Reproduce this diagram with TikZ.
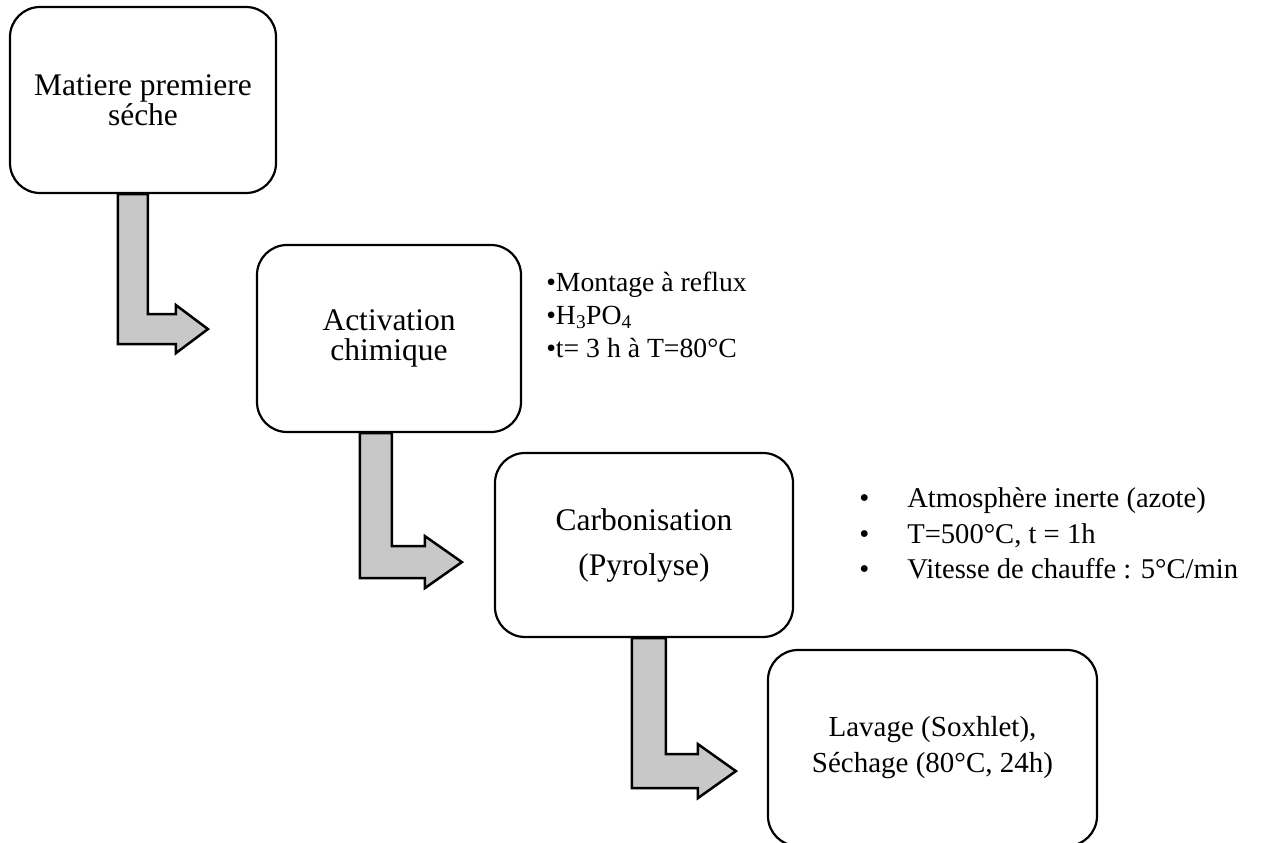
\documentclass[tikz,border=0pt]{standalone}
\usepackage{fontspec}
\setmainfont{Liberation Serif}
\usetikzlibrary{positioning, calc}
\definecolor{flechegris}{HTML}{C8C8C8}

\begin{document}
\begin{tikzpicture}[
  x=1pt, y=-1pt,
  etape/.style={rectangle, draw=black, line width=2.2pt, fill=white, rounded corners=30pt, align=center, font=\fontsize{31.5}{30}\selectfont},
  notes/.style={align=left, inner sep=0pt, anchor=west},
  fleche/.style={draw=black, line width=2.5pt, fill=flechegris, line join=miter}
]
  \useasboundingbox (0,0) rectangle (1262,843);

  \node[etape, minimum width=266pt, minimum height=186pt] (matiere) at (143,100) {Matiere premiere\\séche};
  \node[etape, minimum width=264pt, minimum height=187pt] (activ) at (389,338.5) {Activation\\chimique};
  \node[etape, minimum width=298pt, minimum height=184pt, font=\fontsize{31.5}{45}\selectfont] (carbo) at (644,545) {Carbonisation\\(Pyrolyse)};
  \node[etape, minimum width=329pt, minimum height=196pt, font=\fontsize{29}{36}\selectfont] (lavage) at (932.5,748) {Lavage (Soxhlet),\\Séchage (80°C, 24h)};

  % fleches coudees
  \draw[fleche] ($(matiere.south west)+(109,0)$) -- ++(0,150) -- ++(58,0) -- ++(0,9) -- ++(32,-24) -- ++(-32,-24) -- ++(0,9) -- ++(-28,0) -- ++(0,-120) -- cycle;
  \draw[fleche] ($(activ.south west)+(104,0)$) -- ++(0,145) -- ++(65,0) -- ++(0,10) -- ++(37,-26) -- ++(-37,-26) -- ++(0,10) -- ++(-33,0) -- ++(0,-113) -- cycle;
  \draw[fleche] ($(carbo.south west)+(138,0)$) -- ++(0,150) -- ++(66,0) -- ++(0,10) -- ++(38,-27) -- ++(-38,-27) -- ++(0,10) -- ++(-32,0) -- ++(0,-116) -- cycle;

  \node[notes, font=\fontsize{27.7}{33}\selectfont] (activnotes) at ($(activ.east)+(24,-23.5)$) {\textbullet Montage à reflux\\\textbullet H\textsubscript{3}PO\textsubscript{4}\\\textbullet t= 3 h à T=80°C};
  \node[notes, font=\fontsize{28.6}{35.5}\selectfont] (carbonotes) at ($(carbo.east)+(65,-11.5)$) {\makebox[48pt][l]{\textbullet}Atmosphère inerte (azote)\\\makebox[48pt][l]{\textbullet}T=500°C, t = 1h\\\makebox[48pt][l]{\textbullet}Vitesse de chauffe : 5°C/min};
\end{tikzpicture}
\end{document}
